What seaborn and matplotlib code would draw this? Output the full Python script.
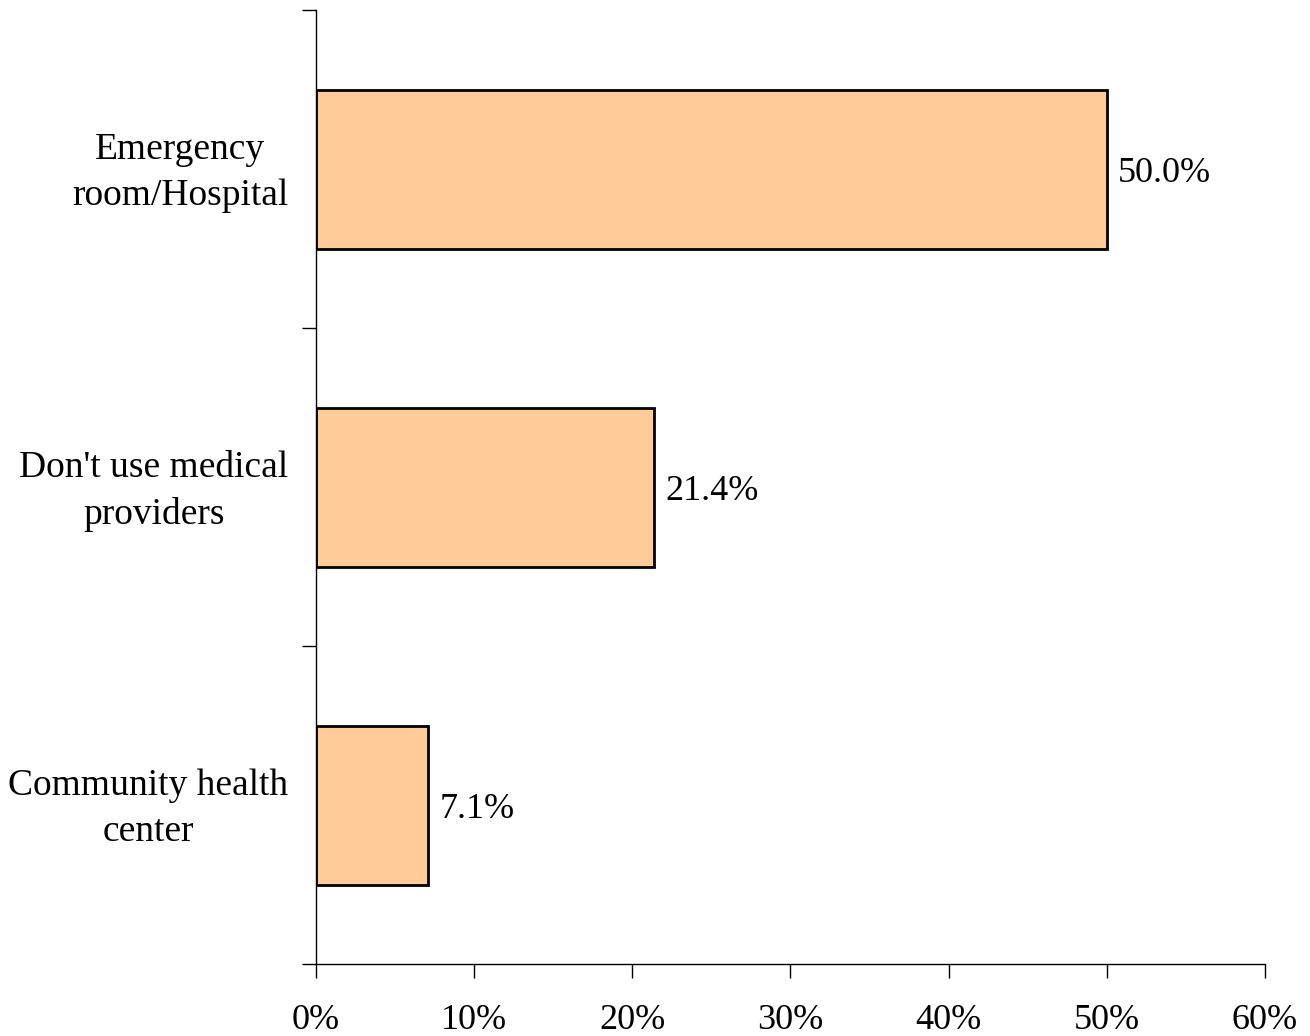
import seaborn as sns
import pandas as pd
import matplotlib.pyplot as plt
import matplotlib.transforms as mtransforms
from matplotlib.ticker import FixedLocator, PercentFormatter

categories = ['Emergency\nroom/Hospital', "Don't use medical\nproviders", 'Community health\ncenter']
values = [50.0, 21.4, 7.1]
x_ticks = [0, 10, 20, 30, 40, 50, 60]

df = pd.DataFrame({'category': categories, 'share': values})

sns.set_style('white')
plt.rcParams['font.family'] = ['Liberation Serif', 'DejaVu Serif']
plt.rcParams['text.color'] = 'black'
plt.rcParams['xtick.color'] = 'black'
plt.rcParams['ytick.color'] = 'black'

fig = plt.figure(figsize=(13.1, 10.36), dpi=100)
ax = fig.add_axes([0.2412, 0.0695, 0.7244, 0.9208])

sns.barplot(data=df, x='share', y='category', orient='h', color='#FFCC99',
            saturation=1, width=0.5, edgecolor='black', linewidth=2, ax=ax)

ax.set_xlim(0, 60)
ax.set_ylim(2.5, -0.5)
ax.set_xticks(x_ticks)
ax.xaxis.set_major_formatter(PercentFormatter(decimals=0))
ax.yaxis.set_minor_locator(FixedLocator([-0.5, 0.5, 1.5, 2.5]))
ax.tick_params(axis='y', which='major', length=0, pad=20, labelsize=27)
ax.tick_params(axis='y', which='minor', length=10, width=1, color='black', direction='out', left=True)
ax.tick_params(axis='x', which='major', length=10, width=1, color='black', direction='out',
               bottom=True, pad=19, labelsize=26)
shift_up = mtransforms.ScaledTranslation(0, 6 / 100, fig.dpi_scale_trans)
for lab in ax.get_yticklabels():
    lab.set_multialignment('center')
    lab.set_linespacing(1.45)
    lab.set_transform(lab.get_transform() + shift_up)
ax.set_xlabel('')
ax.set_ylabel('')

for s in ['top', 'right']:
    ax.spines[s].set_visible(False)
for s in ['left', 'bottom']:
    ax.spines[s].set_color('black')
    ax.spines[s].set_linewidth(1)

shift_down = mtransforms.ScaledTranslation(0, -4 / 100, fig.dpi_scale_trans)
for i, v in enumerate(values):
    ax.text(v + 0.7, i, f'{v:.1f}%', va='center', ha='left', fontsize=26, color='black',
            transform=ax.transData + shift_down)

fig.savefig('out.png', dpi=100)
